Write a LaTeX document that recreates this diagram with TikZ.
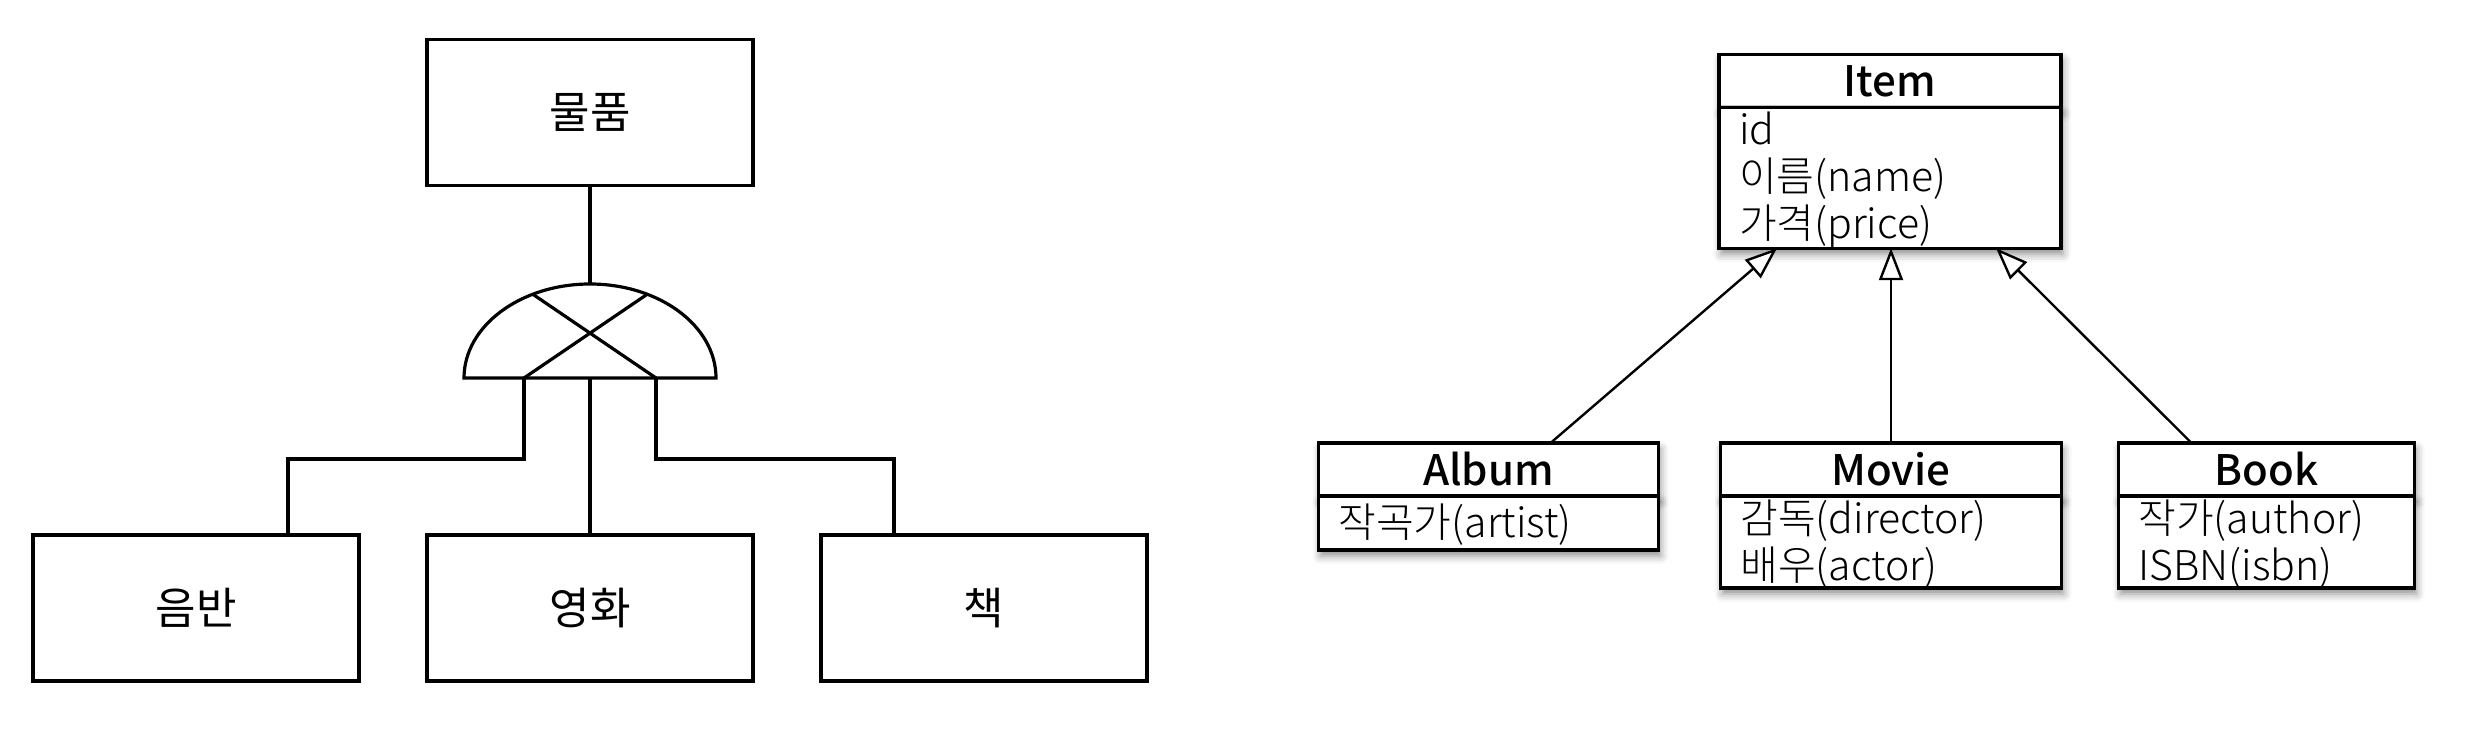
\documentclass[tikz,border=0pt]{standalone}
\usepackage{fontspec}
\setmainfont{Noto Sans CJK KR}
\newfontfamily\attrfont{Noto Sans CJK KR Light}
\newfontfamily\headfont{Noto Sans CJK KR Medium}
\usetikzlibrary{positioning,calc,arrows.meta,shadows.blur}

\tikzset{
  box/.style={draw, line width=1.8pt, minimum width=163pt, minimum height=73pt,
    inner sep=0pt, font=\fontsize{22}{26}\selectfont},
  tree/.style={line width=1.6pt},
  umlshadow/.style={blur shadow={shadow xshift=1pt, shadow yshift=-3pt,
    shadow blur radius=4pt, shadow opacity=45}},
  classhead/.style={draw, fill=white, line width=1.6pt, outer sep=0pt, inner sep=0pt,
    minimum width=#1, minimum height=26.5pt, umlshadow,
    font=\fontsize{21}{24}\headfont},
  attrs/.style={draw, fill=white, line width=1.6pt, outer sep=0pt, inner xsep=10pt,
    inner ysep=0pt, text width=#1, align=left, umlshadow,
    font=\fontsize{20.5}{23.5}\attrfont, execute at begin node={\rule{0pt}{18.5pt}}},
  isa/.style={line width=1.2pt, -{Triangle[length=16pt, width=12pt, fill=white]}}
}

\begin{document}
\begin{tikzpicture}[x=0.5pt,y=-0.5pt]
  \useasboundingbox (0,0) rectangle (2482,742);

  % exclusive subtype tree
  \node[box] (goods) at (590,112.5) {물품};
  \node[box] (movieE) at (590,608) {영화};
  \node[box, left=32.2pt of movieE] (albumE) {음반};
  \node[box, right=32.2pt of movieE] (bookE) {책};

  \coordinate (gate) at (590,378);
  \coordinate (gateT) at (590,284);
  \coordinate (gL) at (524,378);
  \coordinate (gR) at (656,378);

  \draw[tree] (gate) ++(-126,0) arc[start angle=180, end angle=360, x radius=126, y radius=94] -- cycle;
  \draw[tree] (gL) -- ($(gate)+(297:126 and 94)$);
  \draw[tree] (gR) -- ($(gate)+(243:126 and 94)$);

  \draw[tree] (goods) -- (gateT);
  \draw[tree] (gate) -- (movieE);
  \draw[tree] (gL) -- ++(0,81) -| ([xshift=46pt]albumE.north);
  \draw[tree] (gR) -- ++(0,81) -| ([xshift=-45pt]bookE.north);

  % class diagram
  \node[classhead=171pt] (itemH) at (1890,81) {Item};
  \node[attrs=151pt, minimum height=69.5pt, below=0pt of itemH] (itemB) {id\\이름(name)\\가격(price)};

  \node[classhead=170.5pt] (movieH) at (1891,469.5) {Movie};
  \node[attrs=150.5pt, minimum height=46pt, below=0pt of movieH] (movieB) {감독(director)\\배우(actor)};

  \node[classhead=170pt, left=31pt of movieH] (albumH) {Album};
  \node[attrs=150pt, minimum height=27pt, below=0pt of albumH] (albumB) {작곡가(artist)};

  \node[classhead=148pt, right=28.5pt of movieH] (bookH) {Book};
  \node[attrs=128pt, minimum height=46pt, below=0pt of bookH] (bookB) {작가(author)\\ISBN(isbn)};

  \draw[isa] ([xshift=31pt]albumH.north) -- ([xshift=-56.5pt]itemB.south);
  \draw[isa] (movieH.north) -- (movieH.north |- itemB.south);
  \draw[isa] ([xshift=-37.5pt]bookH.north) -- ([xshift=53pt]itemB.south);
\end{tikzpicture}
\end{document}
